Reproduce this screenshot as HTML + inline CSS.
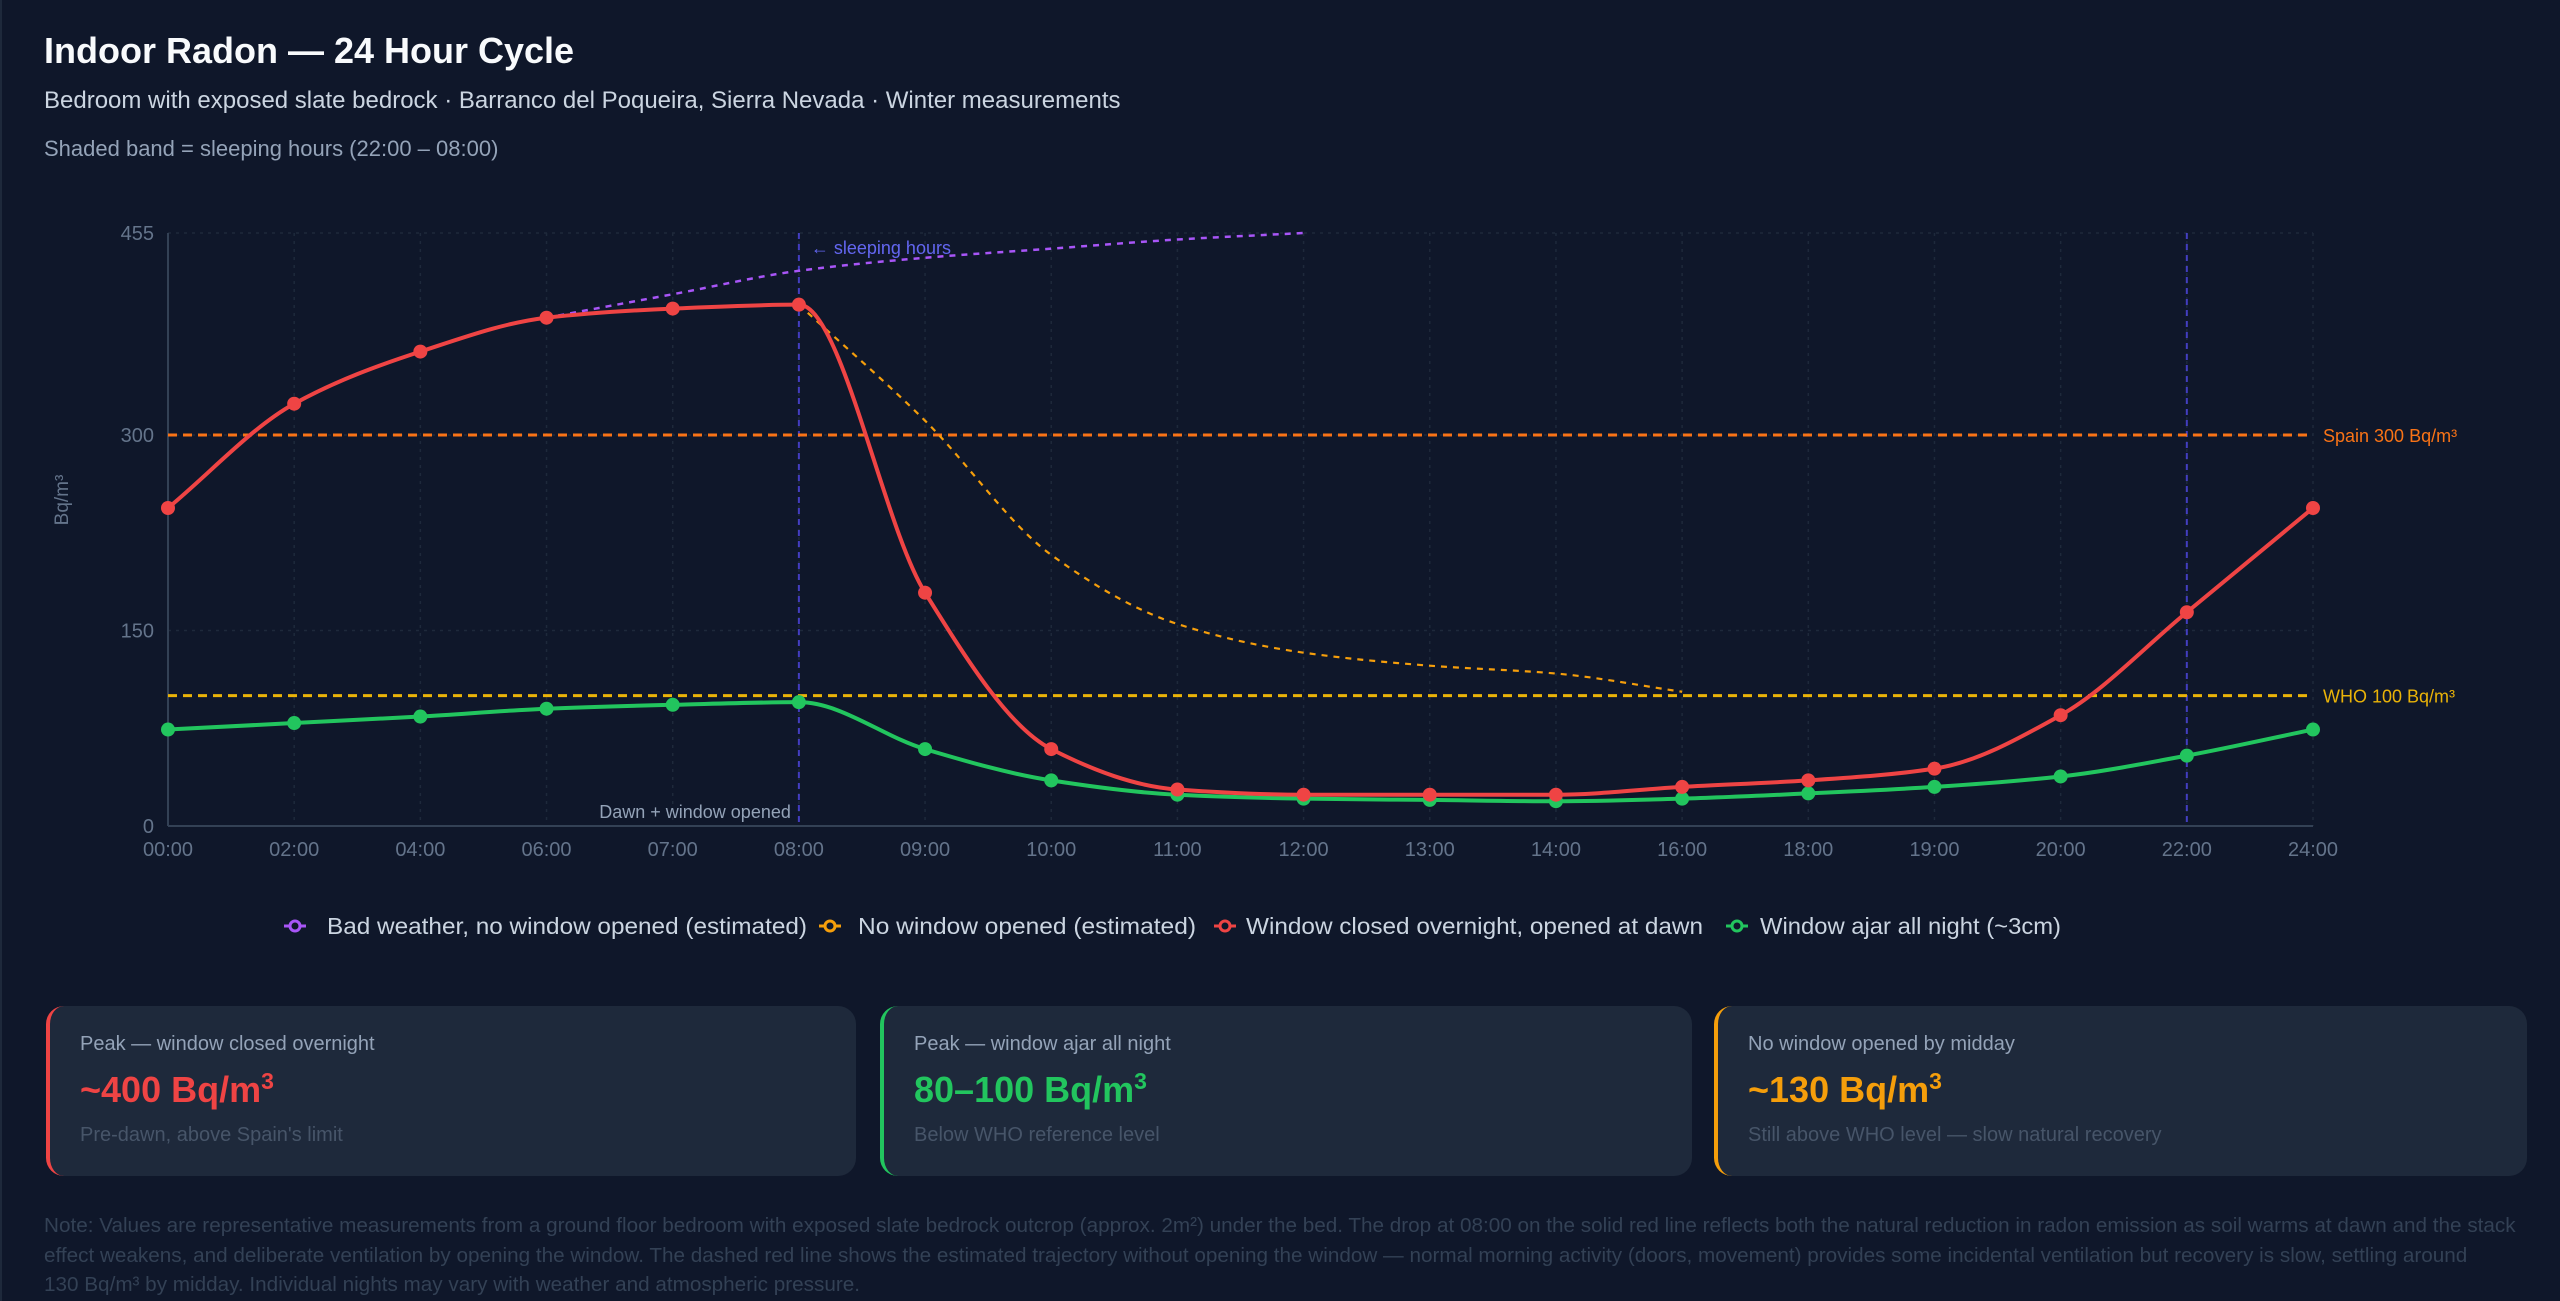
<!DOCTYPE html>
<html><head><meta charset="utf-8"><style>
html,body{margin:0;padding:0;background:#0f172a;width:2560px;height:1301px;overflow:hidden;font-family:"Liberation Sans",sans-serif}
.card{position:absolute;top:1006px;height:170px;background:#1e293b;border-radius:18px;border-left:4px solid;box-sizing:border-box;padding-left:30px}
.card .l{position:absolute;top:27px;left:30px;font-size:20px;color:#94a3b8}
.card .v{position:absolute;top:62px;left:30px;font-size:36px;font-weight:bold}
.card .s{position:absolute;top:118px;left:30px;font-size:20px;color:#475569}
</style></head><body>
<div style="position:absolute;left:0;top:0;width:2px;height:1301px;background:#1e293b"></div>
<div style="position:absolute;left:44px;top:30px;font-size:36px;font-weight:bold;color:#f8fafc">Indoor Radon — 24 Hour Cycle</div>
<div style="position:absolute;left:44px;top:87px;font-size:24px;color:#cbd5e1">Bedroom with exposed slate bedrock · Barranco del Poqueira, Sierra Nevada · Winter measurements</div>
<div style="position:absolute;left:44px;top:136px;font-size:22px;color:#94a3b8">Shaded band = sleeping hours (22:00 – 08:00)</div>
<svg id="c" width="2560" height="980" style="position:absolute;left:0;top:0" xmlns="http://www.w3.org/2000/svg" font-family="Liberation Sans, sans-serif"></svg>
<div class="card" style="left:46px;width:810px;border-color:#ef4444"><div class="l">Peak — window closed overnight</div><div class="v" style="color:#ef4444">~400 Bq/m<sup style="font-size:23px">3</sup></div><div class="s">Pre-dawn, above Spain's limit</div></div>
<div class="card" style="left:880px;width:812px;border-color:#22c55e"><div class="l">Peak — window ajar all night</div><div class="v" style="color:#22c55e">80–100 Bq/m<sup style="font-size:23px">3</sup></div><div class="s">Below WHO reference level</div></div>
<div class="card" style="left:1714px;width:813px;border-color:#f59e0b"><div class="l">No window opened by midday</div><div class="v" style="color:#f59e0b">~130 Bq/m<sup style="font-size:23px">3</sup></div><div class="s">Still above WHO level — slow natural recovery</div></div>
<div style="position:absolute;left:44px;top:1211px;width:2500px;font-size:20.7px;line-height:29.5px;color:#334155;white-space:nowrap">Note: Values are representative measurements from a ground floor bedroom with exposed slate bedrock outcrop (approx. 2m²) under the bed. The drop at 08:00 on the solid red line reflects both the natural reduction in radon emission as soil warms at dawn and the stack<br>effect weakens, and deliberate ventilation by opening the window. The dashed red line shows the estimated trajectory without opening the window — normal morning activity (doors, movement) provides some incidental ventilation but recovery is slow, settling around<br>130 Bq/m³ by midday. Individual nights may vary with weather and atmospheric pressure.</div>
<script>
const svg=document.getElementById('c');let h='';
const X0=168,X1=2313,Y0=826,Y1=233;
const cats=['00:00','02:00','04:00','06:00','07:00','08:00','09:00','10:00','11:00','12:00','13:00','14:00','16:00','18:00','19:00','20:00','22:00','24:00'];
const xs=i=>X0+(X1-X0)*i/17, ys=v=>Y0-(Y0-Y1)*v/455;
cats.forEach((c,i)=>{h+=`<line x1="${xs(i)}" y1="${Y1}" x2="${xs(i)}" y2="${Y0}" stroke="#1e293b" stroke-width="1.5" stroke-dasharray="3,5"/>`;
h+=`<text x="${xs(i)}" y="856" fill="#64748b" font-size="20" text-anchor="middle">${c}</text>`;});
[150,300,455].forEach(v=>h+=`<line x1="${X0}" y1="${ys(v)}" x2="${X1}" y2="${ys(v)}" stroke="#1e293b" stroke-width="1.5" stroke-dasharray="3,5"/>`);
[0,150,300,455].forEach(v=>h+=`<text x="154" y="${ys(v)+7}" fill="#64748b" font-size="20" text-anchor="end">${v}</text>`);
h+=`<line x1="${X0}" y1="${Y1}" x2="${X0}" y2="${Y0}" stroke="#334155" stroke-width="2"/><line x1="${X0}" y1="${Y0}" x2="${X1}" y2="${Y0}" stroke="#334155" stroke-width="2"/>`;
h+=`<text transform="translate(68,500) rotate(-90)" fill="#64748b" font-size="19" text-anchor="middle">Bq/m³</text>`;
[5,16].forEach(i=>h+=`<line x1="${xs(i)}" y1="${Y1}" x2="${xs(i)}" y2="${Y0}" stroke="#4f46e5" stroke-opacity="0.8" stroke-width="2" stroke-dasharray="6,5"/>`);
h+=`<text x="${xs(5)+12}" y="254" fill="#6366f1" font-size="18">← sleeping hours</text>`;
h+=`<text x="${xs(5)-8}" y="818" fill="#94a3b8" font-size="18" text-anchor="end">Dawn + window opened</text>`;
h+=`<line x1="${X0}" y1="${ys(300)}" x2="${X1}" y2="${ys(300)}" stroke="#f97316" stroke-width="3" stroke-dasharray="9,6"/>`;
h+=`<text x="2323" y="${ys(300)+7}" fill="#f97316" font-size="18">Spain 300 Bq/m³</text>`;
h+=`<line x1="${X0}" y1="${ys(100)}" x2="${X1}" y2="${ys(100)}" stroke="#eab308" stroke-width="3" stroke-dasharray="9,6"/>`;
h+=`<text x="2323" y="${ys(100)+7}" fill="#eab308" font-size="18">WHO 100 Bq/m³</text>`;
function path(pts){const n=pts.length;const x=pts.map(p=>xs(p[0])),y=pts.map(p=>ys(p[1]));
const d=[],m=[];for(let k=0;k<n-1;k++)d[k]=(y[k+1]-y[k])/(x[k+1]-x[k]);
m[0]=d[0];m[n-1]=d[n-2];for(let k=1;k<n-1;k++){m[k]=(d[k-1]*d[k]<=0)?0:(2/(1/d[k-1]+1/d[k]));}
let s=`M${x[0]},${y[0]}`;for(let k=0;k<n-1;k++){const hh=(x[k+1]-x[k])/3;
s+=` C${x[k]+hh},${y[k]+m[k]*hh} ${x[k+1]-hh},${y[k+1]-m[k+1]*hh} ${x[k+1]},${y[k+1]}`;}return s;}
const purple=[[3,390],[4,408],[5,426],[6,436],[7,443],[8,450],[9,455]];
const orange=[[5,400],[6,311],[7,208],[8,155],[9,133],[10,123],[11,117],[12,103]];
const red=[244,324,364,390,397,400,179,59,28,24,24,24,30,35,44,85,164,244].map((v,i)=>[i,v]);
const green=[74,79,84,90,93,95,59,35,24,21,20,19,21,25,30,38,54,74].map((v,i)=>[i,v]);
h+=`<path d="${path(purple)}" fill="none" stroke="#a855f7" stroke-width="2.5" stroke-dasharray="6,6"/>`;
h+=`<path d="${path(orange)}" fill="none" stroke="#f59e0b" stroke-width="2.2" stroke-dasharray="6,6"/>`;
h+=`<path d="${path(green)}" fill="none" stroke="#22c55e" stroke-width="4"/>`;
h+=`<path d="${path(red)}" fill="none" stroke="#ef4444" stroke-width="4"/>`;
green.forEach(([i,v])=>h+=`<circle cx="${xs(i)}" cy="${ys(v)}" r="7" fill="#22c55e"/>`);
red.forEach(([i,v])=>h+=`<circle cx="${xs(i)}" cy="${ys(v)}" r="7" fill="#ef4444"/>`);
const leg=[[295,327,480,'#a855f7','Bad weather, no window opened (estimated)'],[830,858,338,'#f59e0b','No window opened (estimated)'],[1225,1246,457,'#ef4444','Window closed overnight, opened at dawn'],[1737,1760,301,'#22c55e','Window ajar all night (~3cm)']];
leg.forEach(([m,t,w,c,s])=>{h+=`<line x1="${m-11}" y1="926" x2="${m+11}" y2="926" stroke="${c}" stroke-width="3"/><circle cx="${m}" cy="926" r="5" fill="#0f172a" stroke="${c}" stroke-width="3"/>`;
h+=`<text x="${t}" y="934" fill="#cbd5e1" font-size="23" textLength="${w}" lengthAdjust="spacingAndGlyphs">${s}</text>`;});
svg.innerHTML=h;
</script>
</body></html>
